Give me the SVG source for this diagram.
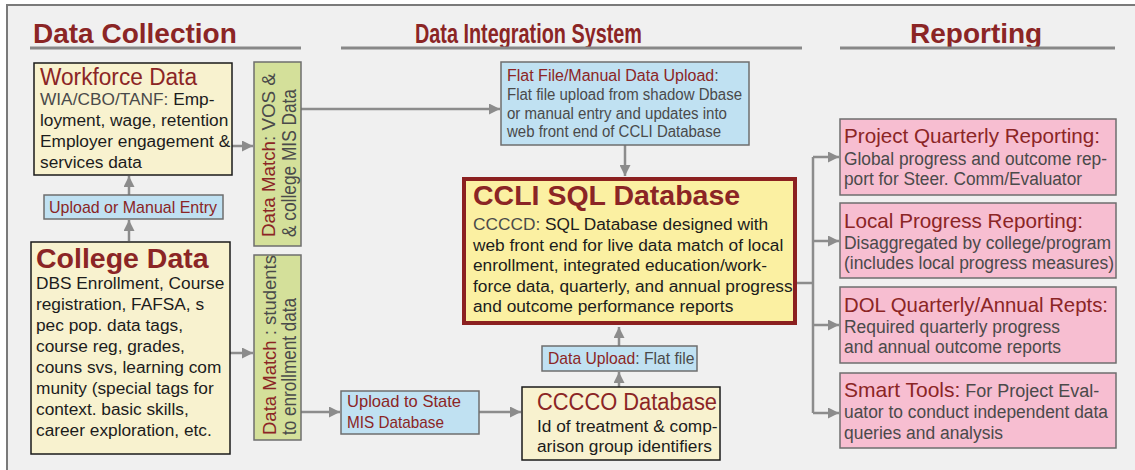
<svg xmlns="http://www.w3.org/2000/svg" width="1135" height="470" viewBox="0 0 1135 470">
  <defs>
    <marker id="arrow" markerUnits="userSpaceOnUse" markerWidth="11" markerHeight="11" refX="11" refY="5.5" orient="auto">
      <path d="M0,0 L11,5.5 L0,11 z" fill="#8c8c8c"/>
    </marker>
    <style>
      text { font-family: 'Liberation Sans', Arial, sans-serif; }
      .head { font-size: 28px; font-weight: bold; fill: #8b2525; }
      .rule { stroke: #888; stroke-width: 2.8; }
      .red { fill: #8b2525; }
      .grey { fill: #4a4a4a; }
      .body { font-size: 17.3px; fill: #1c1c1c; }
      .cream { fill: #f8f2cf; stroke: #1a1a1a; stroke-width: 1.5; }
      .blue { fill: #c0e1f2; stroke: #6e6e6e; stroke-width: 1.5; }
      .green { fill: #d4e09a; stroke: #6e6e6e; stroke-width: 1.5; }
      .pink { fill: #f7bed1; stroke: #6e6e6e; stroke-width: 1.5; }
      .pinkbody { font-size: 18px; fill: #4a4a4a; }
      .pinktitle { font-size: 21px; fill: #8b2525; }
      .conn { fill: none; stroke: #8c8c8c; stroke-width: 2.5; }
      .arr { marker-end: url(#arrow); }
    </style>
  </defs>

  <!-- page and frame -->
  <rect x="0" y="0" width="1135" height="470" fill="#ffffff"/>
  <rect x="7" y="5" width="1128" height="465" fill="#f0f0f0"/>
  <path d="M7,470 V5 H1135" fill="none" stroke="#7a7a7a" stroke-width="2"/>

  <!-- section headings -->
  <g id="headings">
    <text class="head" x="33" y="43">Data Collection</text>
    <line class="rule" x1="30" y1="48" x2="301" y2="48"/>
    <text class="head" x="415" y="43" textLength="227" lengthAdjust="spacingAndGlyphs">Data Integration System</text>
    <line class="rule" x1="341" y1="48" x2="802" y2="48"/>
    <text class="head" x="910" y="43">Reporting</text>
    <line class="rule" x1="840" y1="48" x2="1115" y2="48"/>
  </g>

  <!-- connectors -->
  <g id="connectors">
    <path class="conn arr" d="M129,195 V176"/>
    <path class="conn arr" d="M129,241 V220"/>
    <path class="conn arr" d="M232,146 H253"/>
    <path class="conn arr" d="M230,353 H253"/>
    <path class="conn arr" d="M301,109 H500"/>
    <path class="conn arr" d="M301,412 H340"/>
    <path class="conn arr" d="M479,412 H521"/>
    <path class="conn arr" d="M619,387 V372"/>
    <path class="conn arr" d="M619,346 V327"/>
    <path class="conn arr" d="M625,145 V176"/>
    <path class="conn" d="M797,283 H813 M813,157 V413"/>
    <path class="conn arr" d="M813,157 H839"/>
    <path class="conn arr" d="M813,241 H839"/>
    <path class="conn arr" d="M813,325 H839"/>
    <path class="conn arr" d="M813,413 H839"/>
  </g>

  <!-- data collection -->
  <g id="workforce-data">
    <rect class="cream" x="34" y="63" width="198" height="112"/>
    <text class="red" x="40" y="85" font-size="23" textLength="157" lengthAdjust="spacingAndGlyphs">Workforce Data</text>
    <text class="body" x="40" y="105"><tspan class="grey">WIA/CBO/TANF:</tspan> Emp-</text>
    <text class="body" x="40" y="126">loyment, wage, retention</text>
    <text class="body" x="40" y="147">Employer engagement &amp;</text>
    <text class="body" x="40" y="168">services data</text>
  </g>

  <g id="upload-manual">
    <rect class="blue" x="44" y="195" width="179" height="24"/>
    <text class="red" x="49" y="213" font-size="17" textLength="168" lengthAdjust="spacingAndGlyphs">Upload or Manual Entry</text>
  </g>

  <g id="college-data">
    <rect class="cream" x="31" y="242" width="199" height="212"/>
    <text class="red" x="36" y="268" font-size="28.5" font-weight="bold">College Data</text>
    <text class="body" x="36" y="289">DBS Enrollment, Course</text>
    <text class="body" x="36" y="310">registration, FAFSA, s</text>
    <text class="body" x="36" y="331">pec pop. data tags,</text>
    <text class="body" x="36" y="352">course reg, grades,</text>
    <text class="body" x="36" y="373">couns svs, learning com</text>
    <text class="body" x="36" y="394">munity (special tags for</text>
    <text class="body" x="36" y="415">context. basic skills,</text>
    <text class="body" x="36" y="436">career exploration, etc.</text>
  </g>

  <g id="data-match-vos">
    <rect class="green" x="254" y="62" width="47" height="184"/>
    <g transform="translate(275,237) rotate(-90)">
      <text x="0" y="0" font-size="18.8"><tspan class="red">Data Match</tspan><tspan class="grey">: VOS &amp;</tspan></text>
      <text class="grey" x="0" y="21" font-size="21" textLength="148" lengthAdjust="spacingAndGlyphs">&amp; college MIS Data</text>
    </g>
  </g>

  <g id="data-match-students">
    <rect class="green" x="254" y="255" width="47" height="185"/>
    <g transform="translate(276,435) rotate(-90)">
      <text x="0" y="0" font-size="18.5"><tspan class="red">Data Match</tspan><tspan class="grey"> : students</tspan></text>
      <text class="grey" x="0" y="20" font-size="21" textLength="137" lengthAdjust="spacingAndGlyphs">to enrollment data</text>
    </g>
  </g>

  <!-- data integration -->
  <g id="flat-file-upload">
    <rect class="blue" x="501" y="62" width="248" height="83"/>
    <text x="507" y="81" font-size="16"><tspan class="red">Flat File/Manual Data Upload</tspan><tspan class="grey">:</tspan></text>
    <text class="grey" x="507" y="100" font-size="16" textLength="235" lengthAdjust="spacingAndGlyphs">Flat file upload from shadow Dbase</text>
    <text class="grey" x="507" y="118.5" font-size="16" textLength="220" lengthAdjust="spacingAndGlyphs">or manual entry and updates into</text>
    <text class="grey" x="507" y="137" font-size="16" textLength="214" lengthAdjust="spacingAndGlyphs">web front end of CCLI Database</text>
  </g>

  <g id="ccli-sql-database">
    <rect x="464" y="179" width="331" height="144" fill="#fbf0a2" stroke="#8b2020" stroke-width="4"/>
    <text class="red" x="473" y="205" font-size="28.5" font-weight="bold">CCLI SQL Database</text>
    <text class="body" x="473" y="230"><tspan class="grey">CCCCD:</tspan> SQL Database designed with</text>
    <text class="body" x="473" y="250.5">web front end for live data match of local</text>
    <text class="body" x="473" y="271">enrollment, integrated education/work-</text>
    <text class="body" x="473" y="291.5">force data, quarterly, and annual progress</text>
    <text class="body" x="473" y="312">and outcome performance reports</text>
  </g>

  <g id="data-upload">
    <rect class="blue" x="542" y="346" width="155" height="25"/>
    <text x="548" y="364" font-size="15.7"><tspan class="red">Data Upload</tspan><tspan class="grey">: Flat file</tspan></text>
  </g>

  <g id="upload-state-mis">
    <rect class="blue" x="341" y="391" width="138" height="43"/>
    <text class="red" x="347" y="407" font-size="17" textLength="114" lengthAdjust="spacingAndGlyphs">Upload to  State</text>
    <text class="red" x="347" y="428" font-size="17" textLength="97" lengthAdjust="spacingAndGlyphs">MIS Database</text>
  </g>

  <g id="cccco-database">
    <rect class="cream" x="522" y="387" width="198" height="73"/>
    <text class="red" x="537" y="410" font-size="23" textLength="180" lengthAdjust="spacingAndGlyphs">CCCCO Database</text>
    <text class="body" x="537" y="432">Id of treatment &amp; comp-</text>
    <text class="body" x="537" y="452">arison group identifiers</text>
  </g>

  <!-- reporting -->
  <g id="project-quarterly-reporting">
    <rect class="pink" x="840" y="119" width="276" height="76"/>
    <text class="pinktitle" x="844" y="143" textLength="256" lengthAdjust="spacingAndGlyphs">Project Quarterly Reporting:</text>
    <text class="pinkbody" x="844" y="165" textLength="263" lengthAdjust="spacingAndGlyphs">Global progress and outcome rep-</text>
    <text class="pinkbody" x="844" y="185" textLength="238" lengthAdjust="spacingAndGlyphs">port for Steer. Comm/Evaluator</text>
  </g>

  <g id="local-progress-reporting">
    <rect class="pink" x="840" y="203" width="276" height="75"/>
    <text class="pinktitle" x="844" y="228" textLength="239" lengthAdjust="spacingAndGlyphs">Local Progress Reporting:</text>
    <text class="pinkbody" x="844" y="249" textLength="267" lengthAdjust="spacingAndGlyphs">Disaggregated by college/program</text>
    <text class="pinkbody" x="844" y="269" textLength="270" lengthAdjust="spacingAndGlyphs">(includes local progress measures)</text>
  </g>

  <g id="dol-reports">
    <rect class="pink" x="840" y="287" width="276" height="76"/>
    <text class="pinktitle" x="844" y="312" textLength="264" lengthAdjust="spacingAndGlyphs">DOL Quarterly/Annual Repts:</text>
    <text class="pinkbody" x="844" y="333" textLength="216" lengthAdjust="spacingAndGlyphs">Required quarterly progress</text>
    <text class="pinkbody" x="844" y="353" textLength="217" lengthAdjust="spacingAndGlyphs">and annual outcome reports</text>
  </g>

  <g id="smart-tools">
    <rect class="pink" x="840" y="373" width="276" height="75"/>
    <text x="844" y="397"><tspan class="pinktitle">Smart Tools:</tspan><tspan class="pinkbody"> For Project Eval-</tspan></text>
    <text class="pinkbody" x="844" y="418" textLength="264" lengthAdjust="spacingAndGlyphs">uator to conduct independent data</text>
    <text class="pinkbody" x="844" y="439" textLength="159" lengthAdjust="spacingAndGlyphs">queries and analysis</text>
  </g>
</svg>
